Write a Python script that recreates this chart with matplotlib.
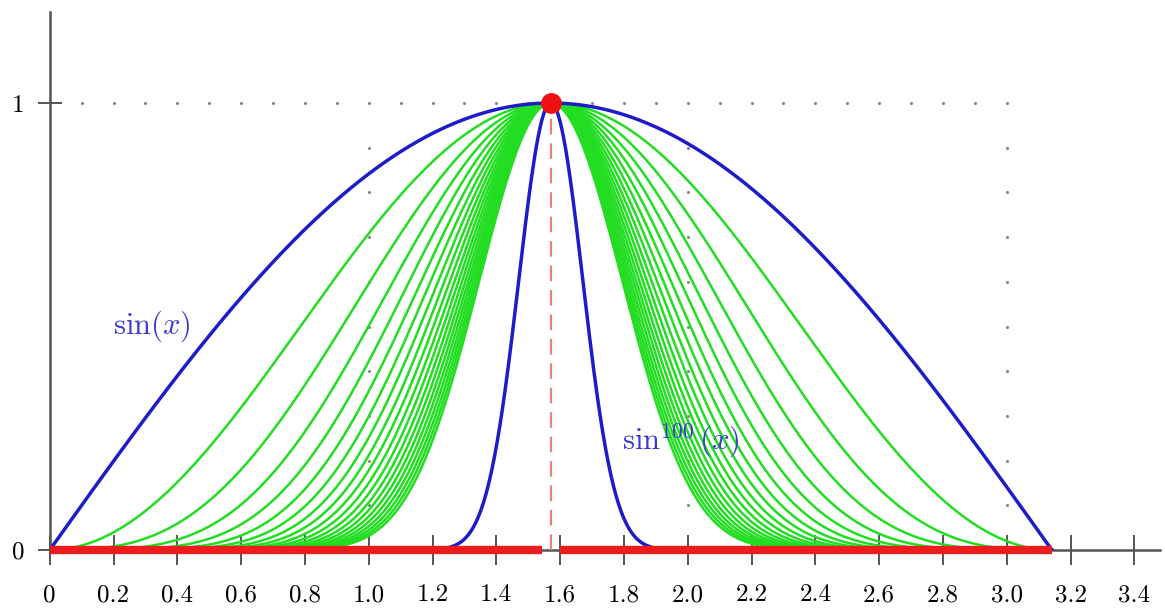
import numpy as np
import matplotlib.pyplot as plt

plt.rcParams['mathtext.fontset'] = 'cm'

# exponents n of the curves sin^n(x)
blue_powers = [1, 100]
green_powers = list(range(2, 21))

x_ticks = [0, 0.2, 0.4, 0.6, 0.8, 1.0, 1.2, 1.4, 1.6, 1.8, 2.0, 2.2, 2.4, 2.6, 2.8, 3.0, 3.2, 3.4]
x_tick_labels = ['0', '0.2', '0.4', '0.6', '0.8', '1.0', '1.2', '1.4', '1.6', '1.8',
                 '2.0', '2.2', '2.4', '2.6', '2.8', '3.0', '3.2', '3.4']
y_ticks = [0, 1]
y_tick_labels = ['0', '1']

# limit function: 0 everywhere except 1 at pi/2
limit_gap = 0.028
peak_x = np.pi / 2

x = np.linspace(0, np.pi, 1500)

fig = plt.figure(figsize=(11.65, 6.13), dpi=100)
ax = fig.add_axes([49.7 / 1165, 63 / 613, (1160 - 49.7) / 1165, (550 - 12) / 613])

# faint dotted grid
grid_col = '#888888'
gx = np.arange(0.1, 3.01, 0.1)
ax.plot(gx, np.ones_like(gx), ls='none', marker='.', ms=2.5, color=grid_col, zorder=1)
gy = np.arange(0.1, 1.0, 0.1)
for xv in [1.0, 2.0, 3.0]:
    ax.plot(np.full_like(gy, xv), gy, ls='none', marker='.', ms=2.5, color=grid_col, zorder=1)

for n in green_powers:
    ax.plot(x, np.sin(x) ** n, color='#22dd22', lw=1.8, zorder=2)
for n in blue_powers:
    ax.plot(x, np.sin(x) ** n, color='#1c1cc8', lw=2.5, zorder=3)

# limit function
left = x[x <= peak_x - limit_gap]
right = x[x >= peak_x + limit_gap]
ax.plot(left, np.zeros_like(left), color='#ee1c1c', lw=6, solid_capstyle='butt', zorder=4, clip_on=False)
ax.plot(right, np.zeros_like(right), color='#ee1c1c', lw=6, solid_capstyle='butt', zorder=4, clip_on=False)
ax.plot([peak_x, peak_x], [0, 1], color='#e88080', lw=1.6, dashes=(7, 4), zorder=4)
ax.plot([peak_x], [1], 'o', color='#ee1111', ms=14, zorder=5, clip_on=False)

ax.text(0.321, 0.50, r'$\sin(x)$', color='#3a3ad0', fontsize=22, ha='center', va='center')
ax.text(1.979, 0.245, r'$\sin^{100}(x)$', color='#3a3ad0', fontsize=22, ha='center', va='center')

ax.set_xlim(0, (1160 - 49.7) / 319)
ax.set_ylim(0, (550 - 12) / 447)

for s in ['top', 'right']:
    ax.spines[s].set_visible(False)
for s in ['left', 'bottom']:
    ax.spines[s].set_color('#555555')
    ax.spines[s].set_linewidth(1.8)

ax.set_xticks(x_ticks)
ax.set_xticklabels(x_tick_labels, fontfamily='cmr10', fontsize=18)
ax.set_yticks(y_ticks)
ax.set_yticklabels(y_tick_labels, fontfamily='cmr10', fontsize=18)
ax.tick_params(axis='x', direction='inout', length=21, width=1.4, color='#555555', pad=14)
ax.tick_params(axis='y', direction='inout', length=17, width=1.4, color='#555555', pad=10)

fig.savefig('out.png', dpi=100)
